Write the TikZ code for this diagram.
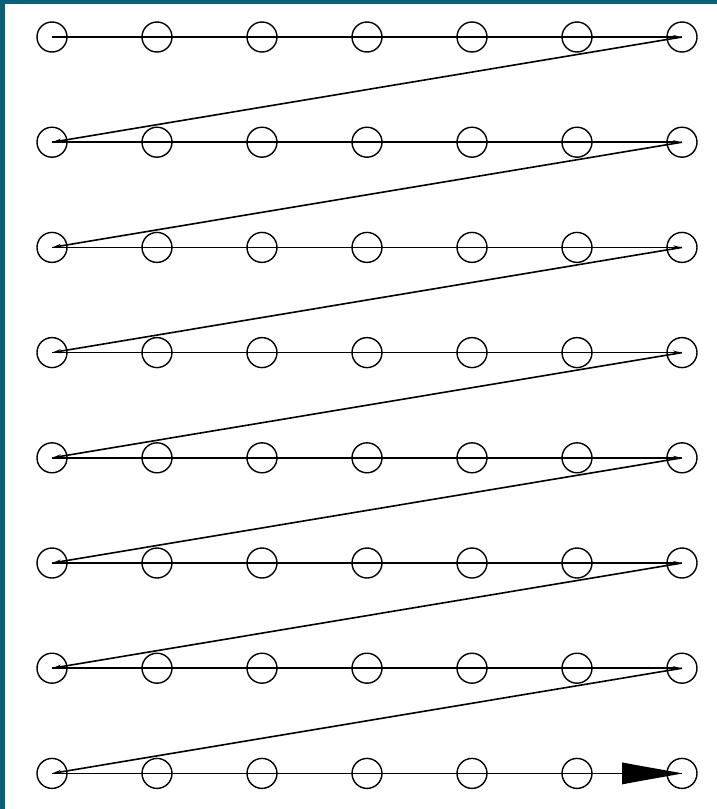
\documentclass[tikz,border=0pt]{standalone}
\usetikzlibrary{arrows.meta}
\definecolor{frameteal}{HTML}{0B5F78}
\begin{document}
\begin{tikzpicture}[x=1pt,y=-1pt,
  dot/.style={draw=black,circle,line width=1.4pt,minimum size=30pt,inner sep=0pt},
  link/.style={draw=black,line width=1.6pt,-{Stealth[length=9pt,width=4pt]}}]
\useasboundingbox (0,0) rectangle (717,809);
\fill[white] (0,0) rectangle (717,809);
\fill[frameteal] (0,0) rectangle (717,4);
\fill[frameteal] (0,0) rectangle (5,809);
\foreach \r in {1,...,8}{
  \foreach \c in {1,...,7}{
    \node[dot] (c\r\c) at ({52+105*(\c-1)},{37+105.2*(\r-1)}) {};
  }
}
\foreach \r in {1,...,7}{
  \draw[link] (c\r1.center) -- (c\r7.center);
}
\foreach \r/\n in {1/2,2/3,3/4,4/5,5/6,6/7,7/8}{
  \draw[link] (c\r7.center) -- (c\n1.center);
}
\draw[draw=black,line width=1.6pt] (c81.center) -- (c87.center);
\fill[black] ([xshift=-60pt,yshift=11pt]c87.center) -- ([xshift=-44pt,yshift=8pt]c87.center)
  -- ([xshift=-3pt,yshift=0.7pt]c87.center) -- ([xshift=-3pt,yshift=-0.7pt]c87.center)
  -- ([xshift=-44pt,yshift=-8pt]c87.center) -- ([xshift=-60pt,yshift=-11pt]c87.center) -- cycle;
\end{tikzpicture}
\end{document}
